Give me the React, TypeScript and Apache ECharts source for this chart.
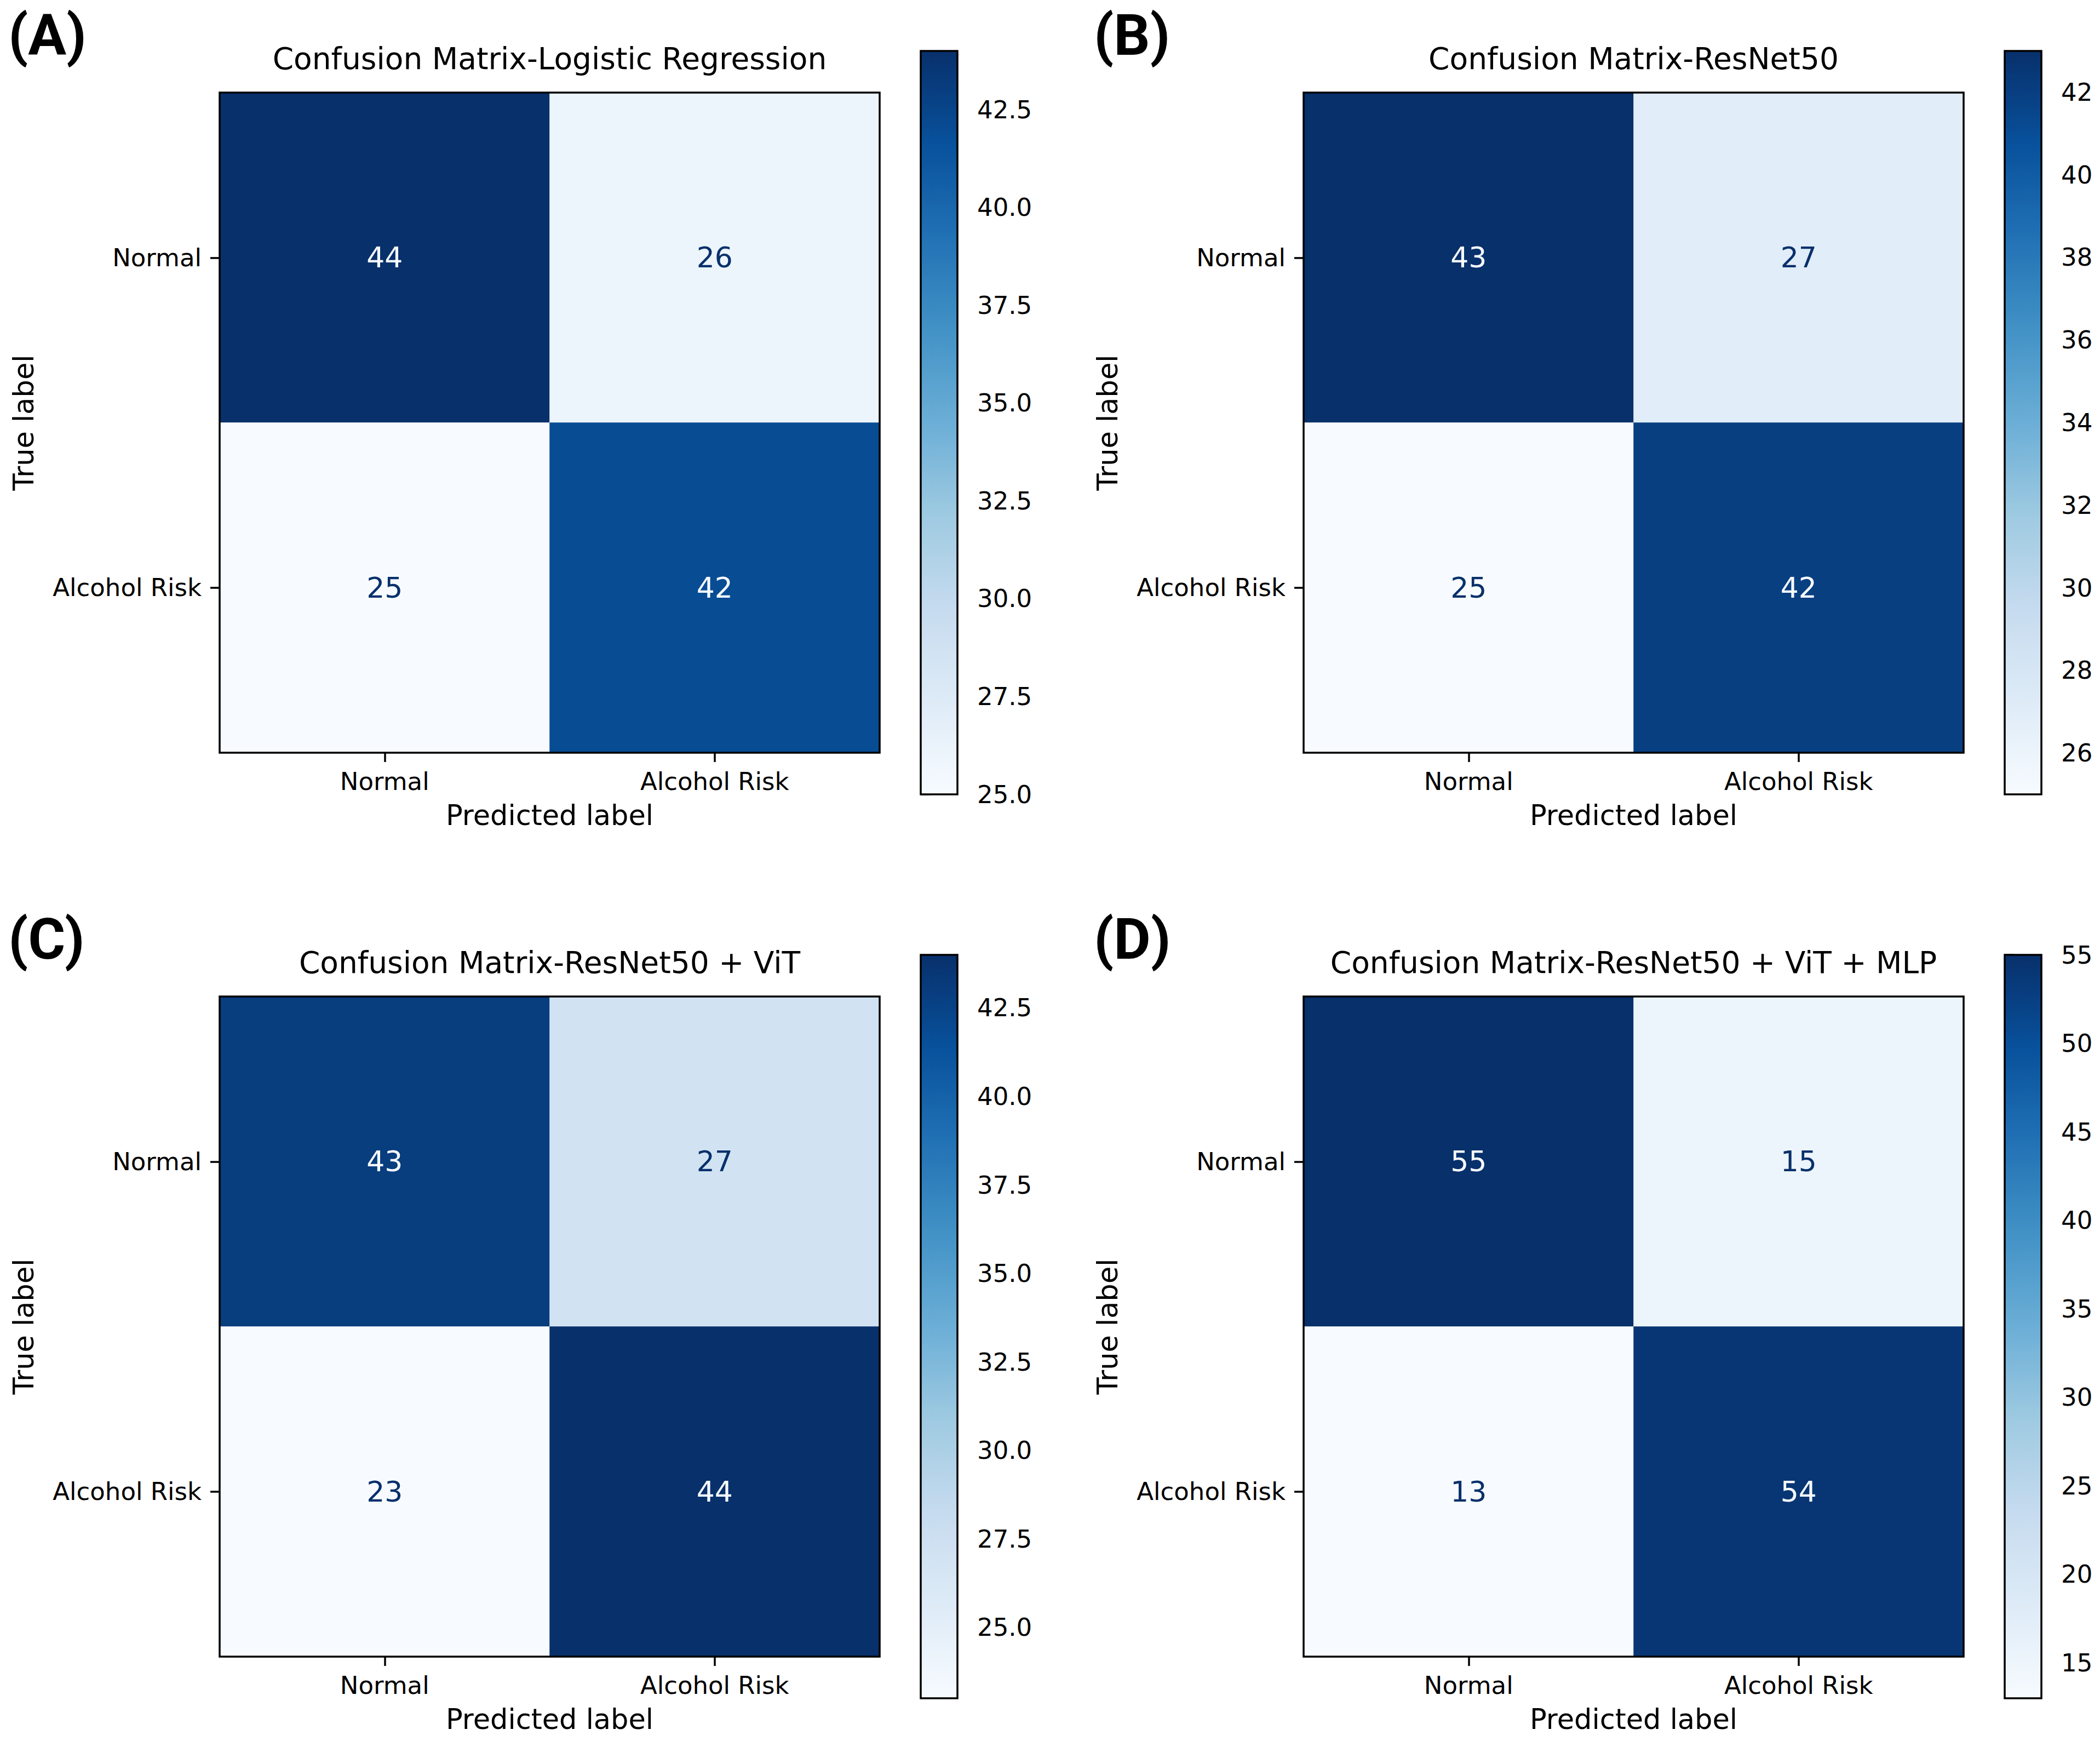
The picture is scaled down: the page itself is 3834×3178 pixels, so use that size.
import React, { useEffect, useRef } from "react";
import * as echarts from "echarts";

// ---- data ----
const classLabels = ["Normal", "Alcohol Risk"];
const panelTitles = [
  "Confusion Matrix-Logistic Regression",
  "Confusion Matrix-ResNet50",
  "Confusion Matrix-ResNet50 + ViT",
  "Confusion Matrix-ResNet50 + ViT + MLP",
];
const panelLetters = ["(A)", "(B)", "(C)", "(D)"];
// rows = true label, columns = predicted label
const cmLogisticRegression = [
  [44, 26],
  [25, 42],
];
const cmResNet50 = [
  [43, 27],
  [25, 42],
];
const cmResNet50ViT = [
  [43, 27],
  [23, 44],
];
const cmResNet50ViTMLP = [
  [55, 15],
  [13, 54],
];
const colorbarTicksA = [25, 27.5, 30, 32.5, 35, 37.5, 40, 42.5];
const colorbarTicksB = [26, 28, 30, 32, 34, 36, 38, 40, 42];
const colorbarTicksC = [25, 27.5, 30, 32.5, 35, 37.5, 40, 42.5];
const colorbarTicksD = [15, 20, 25, 30, 35, 40, 45, 50, 55];
const colorbarDecimals = [1, 0, 1, 0];
const bluesColormap = [
  "#f7fbff",
  "#deebf7",
  "#c6dbef",
  "#9ecae1",
  "#6baed6",
  "#4292c6",
  "#2171b5",
  "#08519c",
  "#08306b",
];

const matrices = [cmLogisticRegression, cmResNet50, cmResNet50ViT, cmResNet50ViTMLP];
const colorbarTicks = [colorbarTicksA, colorbarTicksB, colorbarTicksC, colorbarTicksD];

// ---- layout ----
const FONT = "DejaVu Sans";
const PANEL_DX = 1979;
const PANEL_DY = 1650;
const HEAT_LEFT = 401;
const HEAT_TOP = 169;
const HEAT_SIZE = 1205;
const CBAR_LEFT = 1681;
const CBAR_TOP = 93;
const CBAR_W = 67;
const CBAR_H = 1357;
const LINE_W = 3.5;
const TICK_LEN = 17;

function buildOption() {
  const grid: any[] = [];
  const xAxis: any[] = [];
  const yAxis: any[] = [];
  const series: any[] = [];
  const visualMap: any[] = [];
  const graphic: any[] = [];

  for (let i = 0; i < 4; i++) {
    const ox = (i % 2) * PANEL_DX;
    const oy = Math.floor(i / 2) * PANEL_DY;
    const cm = matrices[i];
    const flat = cm.flat();
    const vmin = Math.min(...flat);
    const vmax = Math.max(...flat);
    const thresh = (vmin + vmax) / 2;
    const dec = colorbarDecimals[i];

    grid.push({
      left: HEAT_LEFT + ox,
      top: HEAT_TOP + oy,
      width: HEAT_SIZE,
      height: HEAT_SIZE,
      show: true,
      borderColor: "#000",
      borderWidth: LINE_W,
      backgroundColor: "transparent",
      z: 10,
    });
    grid.push({
      left: CBAR_LEFT + ox,
      top: CBAR_TOP + oy,
      width: CBAR_W,
      height: CBAR_H,
      show: true,
      borderColor: "#000",
      borderWidth: LINE_W,
      backgroundColor: "transparent",
      z: 10,
    });

    const tickStyle = { color: "#000", width: LINE_W };
    xAxis.push({
      type: "category",
      gridIndex: 2 * i,
      data: classLabels,
      position: "bottom",
      name: "Predicted label",
      nameLocation: "middle",
      nameGap: 89,
      nameTextStyle: { fontSize: 51, lineHeight: 51, fontFamily: FONT, color: "#000" },
      axisLine: { show: false },
      axisTick: { show: true, alignWithLabel: true, length: TICK_LEN, lineStyle: tickStyle },
      axisLabel: { fontSize: 45, lineHeight: 45, margin: 30, color: "#000", fontFamily: FONT },
      splitLine: { show: false },
    });
    xAxis.push({
      type: "value",
      gridIndex: 2 * i + 1,
      min: 0,
      max: 1,
      show: false,
    });
    yAxis.push({
      type: "category",
      gridIndex: 2 * i,
      data: classLabels,
      inverse: true,
      name: "True label",
      nameLocation: "middle",
      nameRotate: 90,
      nameGap: 332,
      nameTextStyle: { fontSize: 51, lineHeight: 51, fontFamily: FONT, color: "#000" },
      axisLine: { show: false },
      axisTick: { show: true, alignWithLabel: true, length: TICK_LEN, lineStyle: tickStyle },
      axisLabel: { fontSize: 45, lineHeight: 45, margin: 33, color: "#000", fontFamily: FONT },
      splitLine: { show: false },
    });
    yAxis.push({
      type: "value",
      gridIndex: 2 * i + 1,
      position: "right",
      min: vmin,
      max: vmax,
      axisLine: { show: false },
      axisTick: { show: true, length: TICK_LEN, lineStyle: tickStyle, customValues: colorbarTicks[i] },
      axisLabel: {
        show: true,
        customValues: colorbarTicks[i],
        formatter: (v: number) => v.toFixed(dec),
        fontSize: 45,
        margin: 36,
        color: "#000",
        fontFamily: FONT,
      },
      splitLine: { show: false },
    });

    const data: any[] = [];
    cm.forEach((row, r) => {
      row.forEach((v, c) => {
        data.push({
          value: [c, r, v],
          label: { color: v < thresh ? bluesColormap[bluesColormap.length - 1] : bluesColormap[0] },
        });
      });
    });
    series.push({
      type: "heatmap",
      xAxisIndex: 2 * i,
      yAxisIndex: 2 * i,
      data,
      label: {
        show: true,
        fontSize: 52,
        fontFamily: FONT,
        formatter: (p: any) => String(p.value[2]),
      },
      itemStyle: { borderWidth: 0 },
      emphasis: { disabled: true },
    });

    visualMap.push({
      type: "continuous",
      seriesIndex: i,
      min: vmin,
      max: vmax,
      orient: "vertical",
      left: CBAR_LEFT + ox,
      top: CBAR_TOP + oy,
      itemWidth: CBAR_W,
      itemHeight: CBAR_H,
      padding: 0,
      calculable: false,
      hoverLink: false,
      inRange: { color: bluesColormap },
    });

    graphic.push({
      type: "text",
      x: HEAT_LEFT + ox + HEAT_SIZE / 2,
      y: 107 + oy,
      style: {
        text: panelTitles[i],
        font: `55px "${FONT}"`,
        fill: "#000",
        align: "center",
        verticalAlign: "middle",
      },
    });
    graphic.push({
      type: "text",
      x: i % 2 === 0 ? 15 : 1997,
      y: 64 + oy,
      style: {
        text: panelLetters[i],
        font: `bold 104px Roboto`,
        fill: "#000",
        align: "left",
        verticalAlign: "middle",
      },
    });
  }

  return {
    animation: false,
    backgroundColor: "#ffffff",
    grid,
    xAxis,
    yAxis,
    series,
    visualMap,
    graphic,
  };
}

export default function App() {
  const ref = useRef<HTMLDivElement>(null);
  useEffect(() => {
    document.body.style.margin = "0";
    if (!ref.current) return;
    const chart = echarts.init(ref.current, undefined, { renderer: "svg" });
    chart.setOption(buildOption() as any);
    return () => chart.dispose();
  }, []);
  return <div ref={ref} style={{ width: 3834, height: 3178 }} />;
}
